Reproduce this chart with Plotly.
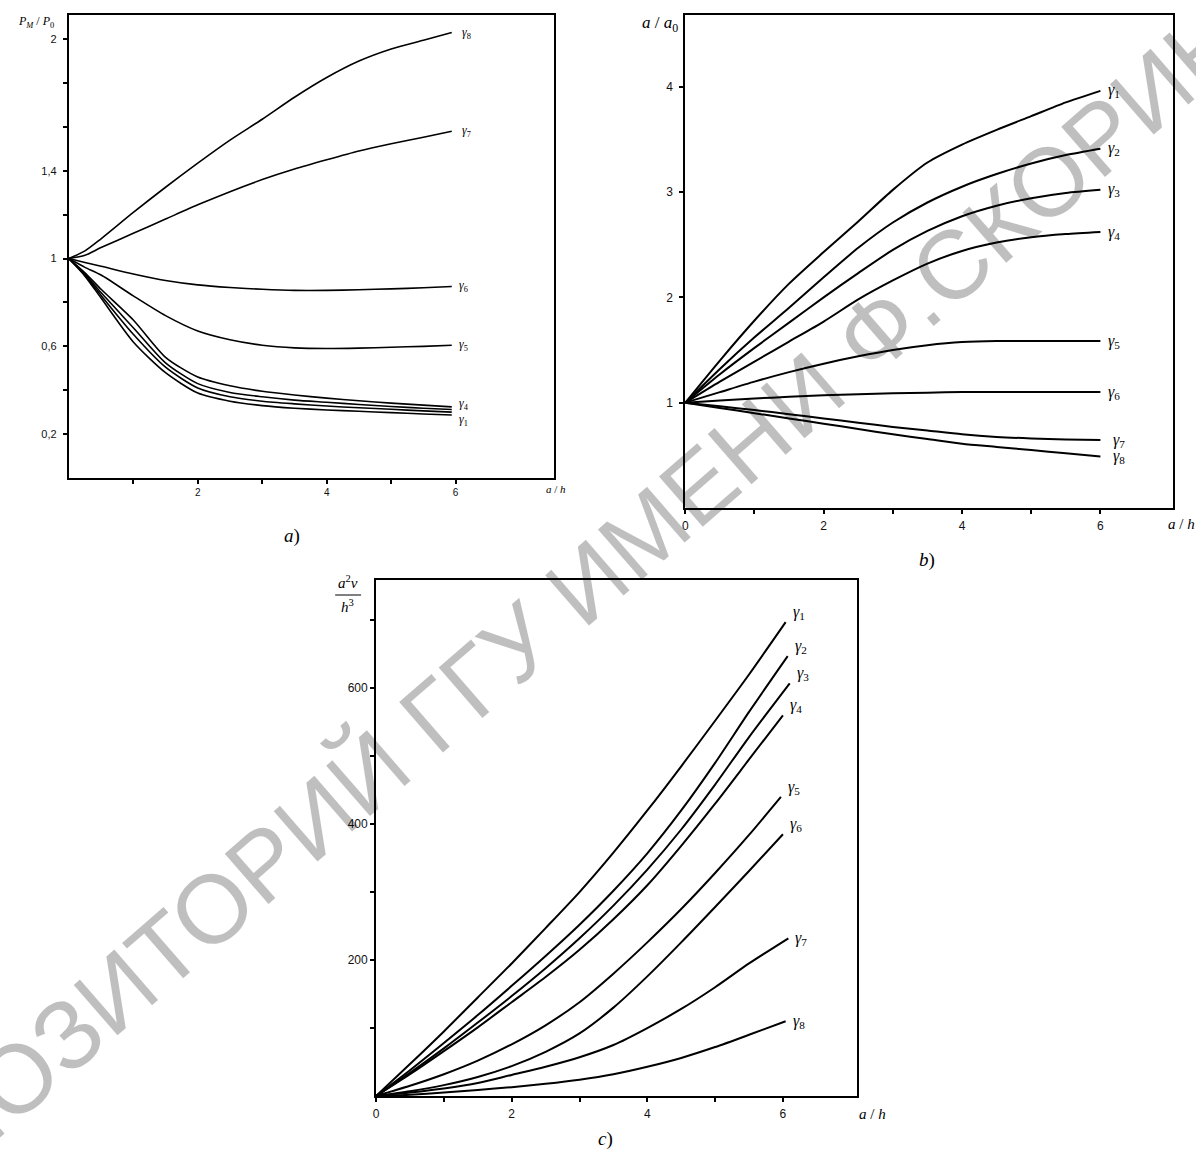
import plotly.graph_objects as go

W, H = 1196, 1156

# ---------------- data ----------------
# panel a: P_M / P_0 vs a/h
xa = [0, 0.25, 0.5, 1, 1.5, 2, 2.5, 3, 3.5, 4, 4.5, 5, 5.5, 5.94]
a_g8 = [1, 1.035, 1.09, 1.21, 1.325, 1.435, 1.54, 1.635, 1.735, 1.825, 1.9, 1.955, 1.995, 2.03]
a_g7 = [1, 1.015, 1.05, 1.115, 1.18, 1.245, 1.305, 1.36, 1.408, 1.45, 1.49, 1.523, 1.553, 1.58]
a_g6 = [1, 0.982, 0.965, 0.93, 0.9, 0.88, 0.868, 0.86, 0.855, 0.855, 0.858, 0.862, 0.867, 0.873]
a_g5 = [1, 0.96, 0.925, 0.83, 0.74, 0.67, 0.63, 0.605, 0.593, 0.59, 0.592, 0.596, 0.6, 0.605]
a_g4 = [1, 0.935, 0.86, 0.72, 0.55, 0.46, 0.42, 0.395, 0.378, 0.364, 0.352, 0.341, 0.332, 0.324]
a_g3 = [1, 0.93, 0.845, 0.685, 0.525, 0.43, 0.39, 0.37, 0.355, 0.345, 0.335, 0.326, 0.318, 0.312]
a_g2 = [1, 0.925, 0.832, 0.655, 0.505, 0.41, 0.37, 0.35, 0.338, 0.328, 0.32, 0.313, 0.306, 0.30]
a_g1 = [1, 0.92, 0.82, 0.62, 0.48, 0.387, 0.35, 0.33, 0.318, 0.31, 0.304, 0.298, 0.292, 0.287]
a_series = [a_g1, a_g2, a_g3, a_g4, a_g5, a_g6, a_g7, a_g8]
a_labels = {1: "1", 4: "4", 5: "5", 6: "6", 7: "7", 8: "8"}
a_yticks = [0.2, 0.4, 0.6, 0.8, 1.0, 1.2, 1.4, 1.6, 1.8, 2.0]
a_yticktext = ["0,2", "", "0,6", "", "1", "", "1,4", "", "", "2"]
a_xticks = [1, 2, 3, 4, 5, 6]
a_xticktext = ["", "2", "", "4", "", "6"]

# panel b: a / a0 vs a/h
xb = [0, 0.5, 1, 1.5, 2, 2.5, 3, 3.5, 4, 4.5, 5, 5.5, 6]
b_g1 = [1, 1.4, 1.78, 2.13, 2.43, 2.72, 3.02, 3.28, 3.45, 3.59, 3.72, 3.85, 3.96]
b_g2 = [1, 1.32, 1.62, 1.9, 2.19, 2.47, 2.71, 2.9, 3.05, 3.17, 3.27, 3.35, 3.41]
b_g3 = [1, 1.27, 1.52, 1.76, 2.0, 2.23, 2.45, 2.63, 2.77, 2.87, 2.94, 2.99, 3.02]
b_g4 = [1, 1.2, 1.39, 1.58, 1.77, 1.98, 2.16, 2.32, 2.44, 2.52, 2.57, 2.6, 2.62]
b_g5 = [1, 1.1, 1.2, 1.29, 1.37, 1.44, 1.5, 1.545, 1.575, 1.585, 1.585, 1.585, 1.585]
b_g6 = [1, 1.02, 1.04, 1.055, 1.07, 1.08, 1.09, 1.095, 1.1, 1.1, 1.1, 1.1, 1.1]
b_g7 = [1, 0.965, 0.93, 0.89, 0.85, 0.81, 0.77, 0.735, 0.7, 0.675, 0.66, 0.65, 0.645]
b_g8 = [1, 0.95, 0.9, 0.85, 0.8, 0.75, 0.7, 0.655, 0.61, 0.58, 0.55, 0.52, 0.49]
b_series = [b_g1, b_g2, b_g3, b_g4, b_g5, b_g6, b_g7, b_g8]
b_yticks = [1, 2, 3, 4]
b_yticktext = ["1", "2", "3", "4"]
b_xticks = [0, 1, 2, 3, 4, 5, 6]
b_xticktext = ["0", "", "2", "", "4", "", "6"]

# panel c: a^2 v / h^3 vs a/h
xc = [0, 0.5, 1, 1.5, 2, 2.5, 3, 3.5, 4, 4.5, 5, 5.5]
c_xend = [6.04, 6.07, 6.1, 6.0, 5.97, 6.0, 6.08, 6.04]
c_g1 = [0, 47, 95, 145, 195, 247, 300, 358, 420, 485, 552, 620, 697]
c_g2 = [0, 38, 78, 119, 162, 206, 252, 302, 357, 420, 490, 565, 647]
c_g3 = [0, 34, 70, 108, 147, 188, 232, 280, 333, 392, 458, 528, 607]
c_g4 = [0, 32, 66, 101, 138, 175, 215, 260, 310, 368, 430, 495, 560]
c_g5 = [0, 15, 32, 52, 76, 104, 138, 180, 226, 275, 328, 384, 440]
c_g6 = [0, 7, 16, 28, 44, 65, 92, 130, 176, 226, 278, 331, 385]
c_g7 = [0, 5, 11, 19, 31, 43, 57, 75, 100, 128, 160, 195, 232]
c_g8 = [0, 2, 5, 9, 13, 18, 24, 32, 43, 56, 72, 90, 110]
c_series = [c_g1, c_g2, c_g3, c_g4, c_g5, c_g6, c_g7, c_g8]
c_yticks = [100, 200, 300, 400, 500, 600, 700]
c_yticktext = ["", "200", "", "400", "", "600", ""]
c_xticks = [0, 1, 2, 3, 4, 5, 6]
c_xticktext = ["0", "", "2", "", "4", "", "6"]

watermark = "РЕПОЗИТОРИЙ ГГУ ИМЕНИ Ф.СКОРИНЫ"

# ---------------- figure ----------------
def px(x):
    return x / W

def py(y):
    return 1 - y / H

fig = go.Figure()

for s in a_series:
    fig.add_trace(go.Scatter(x=xa, y=s, mode="lines", line=dict(color="black", width=1.6, shape="spline", smoothing=0.7),
                             xaxis="x", yaxis="y", showlegend=False, hoverinfo="skip"))
for s in b_series:
    fig.add_trace(go.Scatter(x=xb, y=s, mode="lines", line=dict(color="black", width=2, shape="spline", smoothing=0.7),
                             xaxis="x2", yaxis="y2", showlegend=False, hoverinfo="skip"))
for s, xe in zip(c_series, c_xend):
    fig.add_trace(go.Scatter(x=xc + [xe], y=s, mode="lines", line=dict(color="black", width=2, shape="spline", smoothing=0.7),
                             xaxis="x3", yaxis="y3", showlegend=False, hoverinfo="skip"))

SANS = "Liberation Sans, Arial, sans-serif"
SERIF = "Liberation Serif, Times New Roman, serif"

def axis(domain, rng, tickvals, ticktext, anchor, fsize, standoff=0, lw=2):
    d = dict(domain=domain, range=rng, tickvals=tickvals, ticktext=ticktext, anchor=anchor,
             showline=True, linecolor="black", linewidth=lw, mirror=True, ticks="outside",
             ticklen=4, tickwidth=2, tickcolor="black", showgrid=False, zeroline=False,
             tickfont=dict(family=SANS, size=fsize, color="#111"))
    if standoff:
        d["ticklabelstandoff"] = standoff
    return d

fig.update_layout(
    width=W, height=H, margin=dict(l=0, r=0, t=0, b=0),
    paper_bgcolor="white", plot_bgcolor="rgba(0,0,0,0)",
    xaxis=axis([px(66), px(552)], [0, 7.52], a_xticks, a_xticktext, "y", 10),
    yaxis=axis([py(478), py(15)], [0, 2.11], a_yticks, a_yticktext, "x", 11, standoff=4),
    xaxis2=axis([px(684), px(1173)], [0, 7.05], b_xticks, b_xticktext, "y2", 12, standoff=2),
    yaxis2=axis([py(508), py(15)], [0, 4.68], b_yticks, b_yticktext, "x2", 12, standoff=4),
    xaxis3=axis([px(374), px(856)], [0, 7.09], c_xticks, c_xticktext, "y3", 12, standoff=2),
    yaxis3=axis([py(1096), py(580)], [0, 759], c_yticks, c_yticktext, "x3", 12),
)

ann = []

def gam(i):
    return f"<i>γ</i><sub>{i}</sub>"

# panel a curve labels
a_yshift = {1: -5, 4: 3}
for i, s in enumerate(a_series, start=1):
    if i in a_labels:
        ann.append(dict(x=xa[-1], y=s[-1], xref="x", yref="y", text=gam(a_labels[i]), showarrow=False,
                        xanchor="left", yanchor="middle", xshift=5 if i < 7 else 8,
                        yshift=a_yshift.get(i, 0),
                        font=dict(family=SERIF, size=12, color="black")))
# panel b curve labels
for i, s in enumerate(b_series, start=1):
    ann.append(dict(x=xb[-1], y=s[-1], xref="x2", yref="y2", text=gam(i), showarrow=False,
                    xanchor="left", yanchor="middle", xshift=6 if i not in (7, 8) else 11,
                    font=dict(family=SERIF, size=16, color="black")))
# panel c curve labels
for i, (s, xe) in enumerate(zip(c_series, c_xend), start=1):
    ann.append(dict(x=xe, y=s[-1], xref="x3", yref="y3", text=gam(i), showarrow=False,
                    xanchor="left", yanchor="bottom" if i <= 6 else "middle", xshift=5, yshift=-2 if i <= 6 else 0,
                    font=dict(family=SERIF, size=16, color="black")))

def txt(x, y, t, size, family=SERIF, xanchor="center"):
    ann.append(dict(x=px(x), y=py(y), xref="paper", yref="paper", text=t, showarrow=False,
                    xanchor=xanchor, yanchor="middle", font=dict(family=family, size=size, color="black")))

# axis titles
txt(33, 22, "<i>P<sub>M</sub></i> / <i>P</i><sub>0</sub>", 12)
txt(554, 489, "<i>a</i> / <i>h</i>", 11)
txt(659, 24, "<i>a</i> / <i>a</i><sub>0</sub>", 17)
txt(1181, 524, "<i>a</i> / <i>h</i>", 15)
txt(872, 1114, "<i>a</i> / <i>h</i>", 15)
txt(346, 582, "<i>a</i><sup>2</sup><i>ν</i>", 15)
txt(345, 606, "<i>h</i><sup>3</sup>", 15)
# captions
txt(290, 536, "<i>a</i>)", 19)
txt(926, 560, "<i>b</i>)", 19)
txt(604, 1139, "<i>c</i>)", 19)

# watermark
ann.append(dict(x=px(565), y=py(600), xref="paper", yref="paper", text=watermark, showarrow=False,
                textangle=-41, xanchor="center", yanchor="middle",
                font=dict(family=SANS, size=97, color="rgba(0,0,0,0.25)")))

fig.update_layout(annotations=ann,
                  shapes=[dict(type="line", xref="paper", yref="paper", x0=px(333), x1=px(359),
                               y0=py(595), y1=py(595), line=dict(color="black", width=1))])

fig.write_html("out.html")
